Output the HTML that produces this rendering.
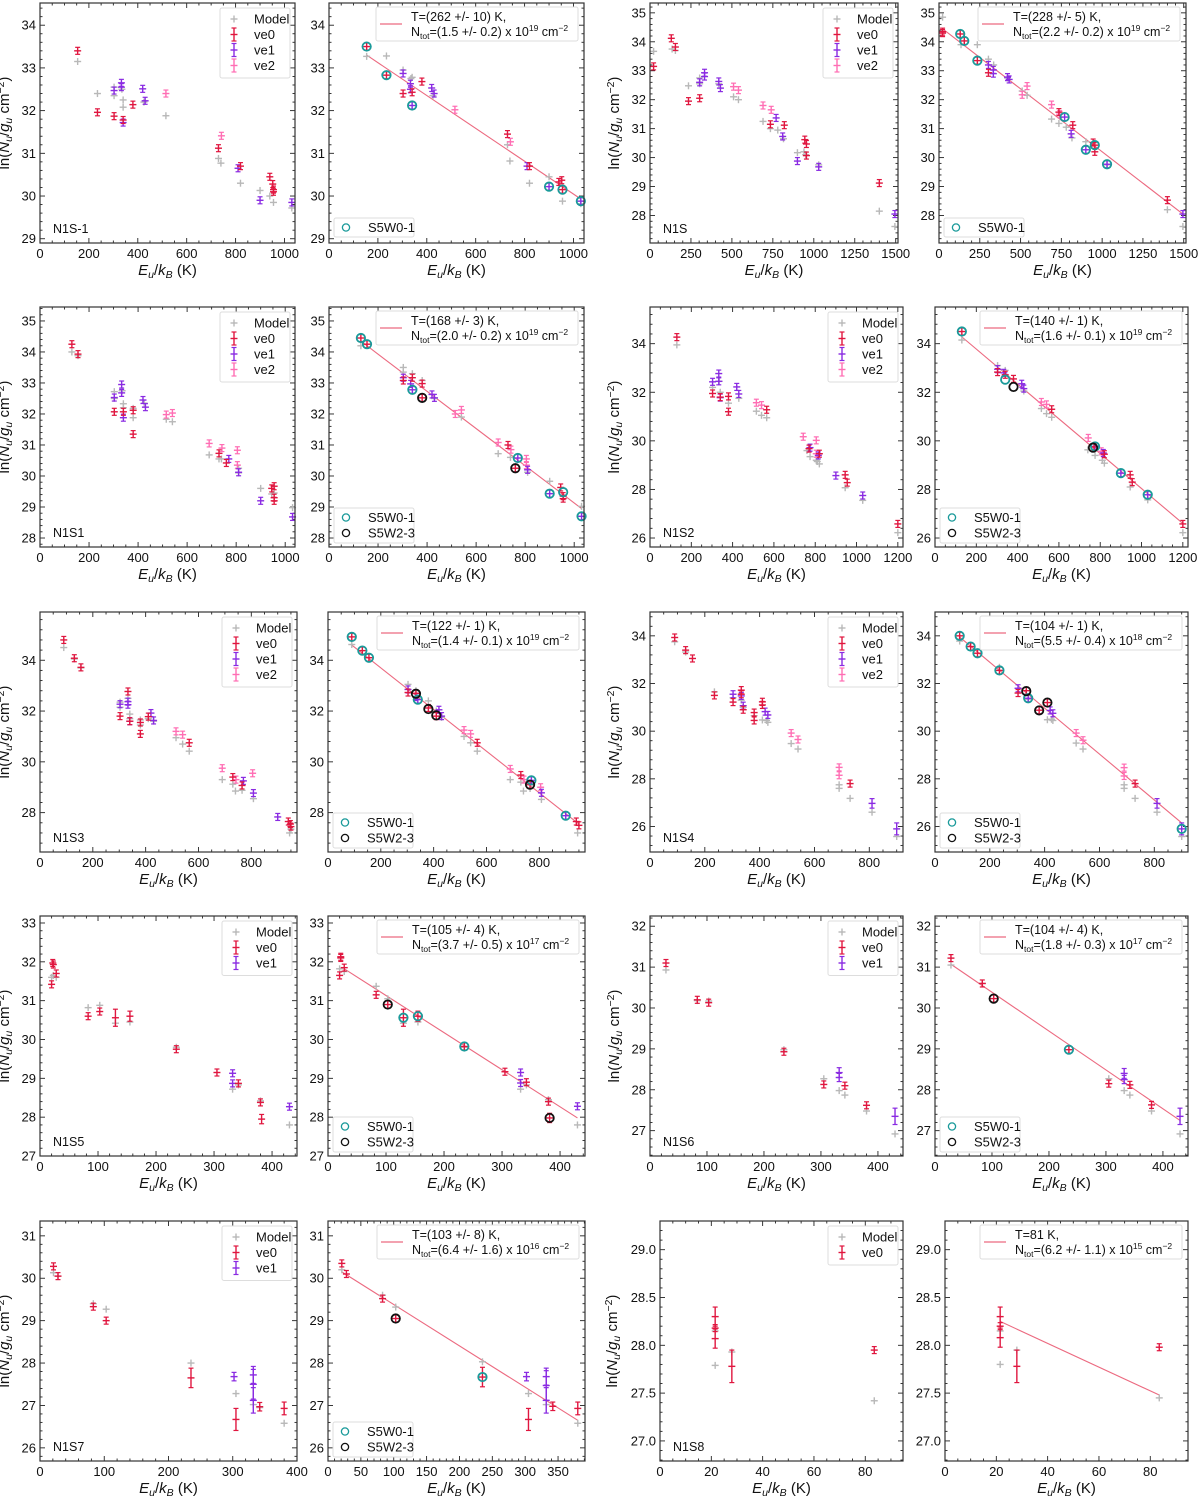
<!DOCTYPE html>
<html><head><meta charset="utf-8"><title>Rotation diagrams</title>
<style>
html,body{margin:0;padding:0;background:#fff;}
svg{display:block;font-family:"Liberation Sans","DejaVu Sans",sans-serif;}
</style></head>
<body>
<svg id="fig" width="1200" height="1496" viewBox="0 0 1200 1496" xmlns="http://www.w3.org/2000/svg"></svg>
<script>
// ---------- DATA (x = Eu/kB [K], y = ln(Nu/gu), optional 3rd = error) ----------
const r1a_model=[[154,33.15],[235,32.4],[303,32.35],[303,32.55],[335,32.5],[340,32.25],[340,32.08],[425,32.2],[515,31.88],[730,30.88],[740,30.77],[820,30.3],[900,30.13],[940,30.0],[955,29.85],[1030,29.72]];
const r1a_ve0=[[154,33.4],[235,31.96],[303,31.87],[340,31.78],[380,32.14],[730,31.12],[820,30.7],[940,30.45],[952,30.28],[955,30.15],[955,30.1]];
const r1a_ve1=[[303,32.47],[333,32.65],[333,32.55],[340,31.72],[420,32.51],[430,32.23],[810,30.65],[900,29.9],[1030,29.85]];
const r1a_ve2=[[515,32.4],[742,31.41]];
const r1b_model=[[154,33.27],[235,33.28],[303,32.95],[335,32.75],[340,32.78],[425,32.35],[730,31.2],[740,30.82],[820,30.3],[900,30.45],[955,29.88],[1030,29.82]];
const r1b_ve0=[[154,33.5],[235,32.83],[303,32.4],[340,32.43],[380,32.68],[730,31.45],[820,30.7],[940,30.33],[952,30.37],[955,30.15]];
const r1b_ve1=[[303,32.87],[333,32.63],[333,32.5],[340,32.12],[420,32.53],[430,32.4],[810,30.7],[900,30.22],[1030,29.88]];
const r1b_ve2=[[515,32.02],[742,31.27]];
const r1b_fit=[[154,33.3],[1030,29.93]];
const r1b_s50=[[154,33.5],[235,32.83],[340,32.12],[900,30.22],[955,30.15],[1030,29.88]];

const r1c_model=[[22,33.67],[135,33.75],[155,33.7],[235,32.48],[303,32.75],[303,32.55],[420,32.55],[510,32.1],[540,32.0],[690,31.25],[735,31.0],[780,30.95],[815,30.65],[900,30.17],[940,30.2],[950,30.1],[1030,29.75],[1400,28.15],[1495,27.62]];
const r1c_ve0=[[22,33.15],[130,34.12],[155,33.82],[235,31.95],[303,32.05],[735,31.15],[820,31.12],[945,30.62],[955,30.47],[955,30.07],[1400,29.12]];
const r1c_ve1=[[303,32.6],[333,32.93],[333,32.8],[420,32.63],[430,32.4],[770,31.37],[810,30.73],[900,29.88],[1030,29.68],[1495,28.05]];
const r1c_ve2=[[510,32.45],[540,32.33],[690,31.8],[740,31.65]];
const r1d_model=[[22,34.85],[135,33.9],[235,33.9],[303,33.4],[335,33.2],[420,32.75],[510,32.3],[540,32.15],[690,31.33],[735,31.18],[780,31.05],[815,30.68],[900,30.55],[1030,29.75],[1400,28.2],[1495,27.62]];
const r1d_ve0=[[22,34.35],[22,34.3],[130,34.27],[155,34.03],[235,33.35],[303,32.93],[735,31.57],[820,31.12],[945,30.52],[955,30.43],[955,30.2],[1400,28.53]];
const r1d_ve1=[[303,33.2],[333,33.03],[333,32.9],[420,32.78],[430,32.7],[770,31.4],[810,30.82],[900,30.27],[1030,29.77],[1495,28.05]];
const r1d_ve2=[[510,32.17],[540,32.47],[690,31.83],[740,31.5]];
const r1d_fit=[[22,34.45],[1500,28.03]];
const r1d_s50=[[130,34.27],[155,34.03],[235,33.35],[770,31.4],[900,30.27],[955,30.43],[1030,29.77]];

const r2a_model=[[130,34.0],[155,33.88],[303,32.72],[303,32.5],[335,32.75],[340,32.33],[340,32.2],[380,32.18],[380,31.88],[425,32.35],[515,31.83],[540,31.75],[690,30.68],[730,30.55],[740,30.55],[810,30.1],[810,30.25],[900,29.6],[945,29.42],[955,29.45],[1030,28.98]];
const r2a_ve0=[[130,34.25],[155,33.93],[303,32.07],[340,32.07],[380,32.12],[380,31.35],[730,30.73],[760,30.42],[945,29.6],[955,29.67],[955,29.3],[955,29.2]];
const r2a_ve1=[[303,32.53],[333,32.95],[333,32.68],[340,31.88],[420,32.45],[430,32.22],[770,30.55],[810,30.12],[900,29.2],[1030,28.68]];
const r2a_ve2=[[515,31.98],[540,32.03],[690,31.05],[742,30.9],[805,30.83],[805,30.35]];
const r2b_model=[[130,34.2],[303,33.5],[303,33.35],[340,33.3],[380,33.08],[430,32.5],[540,31.9],[690,30.72],[740,30.6],[810,30.12],[900,29.83],[1030,29.02]];
const r2b_ve0=[[130,34.45],[155,34.25],[303,33.08],[340,33.17],[380,32.98],[380,32.52],[730,31.0],[760,30.25],[945,29.63],[955,29.35],[955,29.27]];
const r2b_ve1=[[303,33.17],[333,32.97],[340,32.78],[420,32.63],[430,32.52],[770,30.58],[810,30.2],[900,29.43],[1030,28.7]];
const r2b_ve2=[[515,32.0],[540,32.13],[690,31.08],[742,30.85],[805,30.55],[805,30.35]];
const r2b_fit=[[130,34.35],[1030,28.95]];
const r2b_s50=[[130,34.45],[155,34.25],[340,32.78],[770,30.58],[900,29.43],[955,29.48],[1030,28.7]];
const r2b_s52=[[380,32.52],[760,30.25]];

const r2c_model=[[130,33.95],[303,32.2],[335,32.45],[340,32.0],[380,31.55],[430,31.75],[515,31.22],[540,31.05],[565,30.95],[760,29.6],[775,29.35],[805,29.2],[810,29.15],[820,29.05],[945,28.07],[1030,27.55],[1200,26.22]];
const r2c_ve0=[[130,34.27],[303,31.95],[340,31.8],[380,31.83],[380,31.2],[565,31.28],[770,29.68],[820,29.47],[945,28.6],[955,28.28],[1200,26.58]];
const r2c_ve1=[[303,32.43],[333,32.77],[333,32.45],[340,31.78],[420,32.22],[430,31.93],[775,29.72],[815,29.4],[900,28.57],[1030,27.75]];
const r2c_ve2=[[515,31.57],[540,31.47],[742,30.17],[805,30.02],[805,29.47]];
const r2d_model=[[130,34.15],[303,33.1],[340,32.9],[430,32.05],[515,31.33],[540,31.12],[565,30.97],[740,29.63],[775,29.4],[810,29.2],[820,29.08],[945,28.1],[1030,27.57],[1200,26.22]];
const r2d_ve0=[[130,34.5],[303,32.83],[340,32.72],[380,32.55],[565,31.3],[770,29.75],[820,29.45],[945,28.6],[955,28.3],[1200,26.58]];
const r2d_ve1=[[303,32.95],[333,32.8],[420,32.35],[430,32.15],[775,29.77],[815,29.5],[900,28.67],[1030,27.78]];
const r2d_ve2=[[515,31.6],[540,31.5],[742,30.12],[805,29.57]];
const r2d_fit=[[130,34.28],[1200,26.6]];
const r2d_s50=[[130,34.5],[340,32.52],[775,29.77],[900,28.67],[1030,27.78]];
const r2d_s52=[[380,32.22],[765,29.72]];

const r3a_model=[[90,34.5],[130,34.05],[155,33.7],[303,32.35],[303,32.15],[333,32.5],[340,31.88],[340,31.7],[380,31.65],[380,31.45],[410,31.7],[430,31.6],[515,30.95],[540,30.7],[565,30.42],[690,29.3],[730,29.12],[740,28.85],[765,28.88],[808,28.55],[945,27.2],[950,27.35]];
const r3a_ve0=[[90,34.8],[130,34.08],[155,33.72],[303,31.8],[333,32.77],[340,31.6],[380,31.55],[380,31.1],[410,31.78],[565,30.75],[730,29.4],[765,29.07],[940,27.65],[948,27.55],[950,27.45]];
const r3a_ve1=[[303,32.27],[333,32.37],[333,32.25],[340,31.6],[420,31.92],[430,31.63],[770,29.25],[808,28.77],[900,27.83]];
const r3a_ve2=[[515,31.2],[540,31.07],[690,29.75],[742,29.3],[805,29.55]];
const r3b_model=[[90,34.62],[303,33.05],[333,32.8],[380,32.4],[410,32.0],[430,31.75],[515,31.0],[540,30.75],[565,30.42],[690,29.3],[730,29.2],[740,28.85],[765,28.95],[808,28.52],[945,27.2]];
const r3b_ve0=[[90,34.92],[130,34.38],[155,34.1],[303,32.73],[333,32.7],[380,32.12],[410,31.8],[565,30.75],[730,29.48],[765,29.1],[940,27.65],[950,27.5]];
const r3b_ve1=[[303,32.85],[333,32.55],[340,32.45],[420,32.05],[430,31.8],[770,29.27],[808,28.78],[900,27.88]];
const r3b_ve2=[[515,31.25],[540,31.1],[690,29.72],[742,29.3],[805,29.0]];
const r3b_fit=[[90,34.6],[950,27.55]];
const r3b_s50=[[90,34.92],[130,34.38],[155,34.1],[340,32.45],[770,29.27],[900,27.88]];
const r3b_s52=[[333,32.68],[380,32.08],[410,31.83],[765,29.1]];

const r3c_model=[[90,33.75],[130,33.32],[235,31.65],[303,31.4],[333,31.3],[340,31.0],[380,30.65],[410,30.47],[425,30.45],[430,30.37],[515,29.48],[540,29.25],[690,27.75],[690,27.6],[730,27.18],[810,26.6],[900,25.58]];
const r3c_ve0=[[90,33.93],[130,33.4],[155,33.05],[235,31.5],[303,31.22],[333,31.72,0.15],[333,31.55],[340,30.9],[380,30.78],[380,30.45],[410,31.23,0.15],[410,31.1],[730,27.8]];
const r3c_ve1=[[303,31.55],[333,31.48],[340,31.07],[420,30.82],[430,30.68],[810,26.97,0.2],[900,25.9,0.25]];
const r3c_ve2=[[515,29.92],[540,29.65],[690,28.48,0.1],[690,28.15,0.1]];
const r3d_model=[[90,33.78],[235,32.68],[340,31.33],[410,30.48],[425,30.5],[430,30.45],[515,29.5],[540,29.25],[690,27.75],[690,27.6],[730,27.18],[810,26.6],[900,25.58]];
const r3d_ve0=[[90,34.0],[130,33.55],[155,33.27],[235,32.55],[303,31.6],[333,31.7,0.15],[380,30.88],[410,31.2,0.15],[730,27.8]];
const r3d_ve1=[[303,31.8],[340,31.38],[420,30.87],[430,30.75],[810,26.97,0.2],[900,25.9,0.25]];
const r3d_ve2=[[515,29.92],[540,29.62],[690,28.47,0.1],[690,28.12,0.1]];
const r3d_fit=[[90,33.95],[900,26.15]];
const r3d_s50=[[90,34.0],[130,33.55],[155,33.27],[235,32.55],[340,31.38],[900,25.9]];
const r3d_s52=[[333,31.68],[380,30.87],[410,31.2]];

const r4a_model=[[20,31.6],[23,31.65],[28,31.6],[83,30.82],[103,30.88],[130,30.42],[155,30.45],[235,29.8],[332,28.72],[342,28.83],[380,28.42],[430,27.8]];
const r4a_ve0=[[20,31.42],[22,31.97],[23,31.93],[28,31.7],[83,30.6],[103,30.72],[130,30.56,0.22],[155,30.6,0.13],[235,29.75],[305,29.15],[342,28.87],[380,28.38],[382,27.95,0.12]];
const r4a_ve1=[[332,29.13,0.07],[332,28.87,0.07],[430,28.27,0.08]];
const r4b_model=[[20,31.82],[28,31.75],[83,31.37],[103,31.05],[130,30.42],[155,30.45],[235,29.8],[332,28.72],[342,28.83],[380,28.45],[430,27.8]];
const r4b_ve0=[[20,31.65],[22,32.13],[22,32.1],[28,31.85],[83,31.15],[103,30.9],[130,30.56,0.22],[155,30.6,0.13],[235,29.82],[305,29.17],[342,28.9],[380,28.4],[382,27.98,0.12]];
const r4b_ve1=[[332,29.15,0.07],[332,28.88,0.07],[430,28.28,0.08]];
const r4b_fit=[[28,31.82],[430,27.98]];
const r4b_s50=[[130,30.56],[155,30.6],[235,29.82]];
const r4b_s52=[[103,30.9],[382,27.98]];

const r4c_model=[[28,30.93],[83,30.18],[103,30.17],[235,28.98],[305,28.27],[332,27.98],[342,27.87],[380,27.48],[430,26.92]];
const r4c_ve0=[[28,31.1],[83,30.2],[103,30.13],[235,28.93,0.06],[305,28.13,0.08],[342,28.1],[380,27.62,0.08]];
const r4c_ve1=[[332,28.42,0.12],[332,28.3,0.1],[430,27.35,0.2]];
const r4d_model=[[28,31.05],[83,30.6],[305,28.27],[332,27.98],[342,27.87],[380,27.48],[430,26.92]];
const r4d_ve0=[[28,31.22],[83,30.6],[103,30.23],[235,28.98],[305,28.15,0.08],[342,28.12],[380,27.63,0.08]];
const r4d_ve1=[[332,28.4,0.12],[332,28.25,0.1],[430,27.35,0.2]];
const r4d_fit=[[28,31.07],[430,27.25]];
const r4d_s50=[[235,28.98]];
const r4d_s52=[[103,30.23]];

const r5a_model=[[21,30.13],[28,30.05],[83,29.4],[103,29.27],[235,28.0],[305,27.28],[332,27.02],[342,26.95],[380,26.58]];
const r5a_ve0=[[21,30.28],[28,30.05],[83,29.33],[103,29.0,0.08],[235,27.65,0.23],[305,26.67,0.26],[342,26.97,0.1],[380,26.93,0.15]];
const r5a_ve1=[[302,27.68,0.1],[332,27.72,0.2],[332,27.5,0.35],[332,27.12,0.3]];
const r5b_model=[[21,30.2],[83,29.6],[103,29.32],[235,28.03],[305,27.28],[332,27.02],[380,26.58]];
const r5b_ve0=[[21,30.35],[28,30.1],[83,29.52],[103,29.05,0.08],[235,27.67,0.23],[305,26.67,0.26],[342,26.98,0.1],[380,26.93,0.15]];
const r5b_ve1=[[302,27.68,0.1],[332,27.68,0.2],[332,27.47,0.35],[332,27.12,0.3]];
const r5b_fit=[[21,30.15],[380,26.65]];
const r5b_s50=[[235,27.67]];
const r5b_s52=[[103,29.05]];

const r5c_model=[[21.5,28.15],[21.5,27.79],[28,27.93],[83.5,27.42]];
const r5c_ve0=[[21.5,28.3,0.1],[21.5,28.18,0.02],[21.5,28.07,0.1],[28,27.78,0.17],[83.5,27.95,0.03]];
const r5d_model=[[21.5,28.15],[21.5,27.8],[28,27.95],[83.5,27.45]];
const r5d_ve0=[[21.5,28.3,0.1],[21.5,28.2,0.02],[21.5,28.08,0.1],[28,27.78,0.17],[83.5,27.98,0.03]];
const r5d_fit=[[21.5,28.25],[83.5,27.48]];

// tick label arrays
const xt1000=[0,200,400,600,800,1000], xt1500=[0,250,500,750,1000,1250,1500], xt1200=[0,200,400,600,800,1000,1200];
const xt800=[0,200,400,600,800], xt400=[0,100,200,300,400], xt350=[0,50,100,150,200,250,300,350], xt80=[0,20,40,60,80];
const yt29_34=[29,30,31,32,33,34], yt28_35=[28,29,30,31,32,33,34,35], yt26_34=[26,28,30,32,34], yt28_34=[28,30,32,34];
const yt27_33=[27,28,29,30,31,32,33], yt27_32=[27,28,29,30,31,32], yt26_31=[26,27,28,29,30,31], yt27_29=[27.0,27.5,28.0,28.5,29.0];

// fit legend texts
const fitT=["T=(262 +/- 10) K,","T=(228 +/- 5) K,","T=(168 +/- 3) K,","T=(140 +/- 1) K,","T=(122 +/- 1) K,","T=(104 +/- 1) K,","T=(105 +/- 4) K,","T=(104 +/- 4) K,","T=(103 +/- 8) K,","T=81 K,"];
const fitN=[["1.5 +/- 0.2","19"],["2.2 +/- 0.2","19"],["2.0 +/- 0.2","19"],["1.6 +/- 0.1","19"],["1.4 +/- 0.1","19"],["5.5 +/- 0.4","18"],["3.7 +/- 0.5","17"],["1.8 +/- 0.3","17"],["6.4 +/- 1.6","16"],["6.2 +/- 1.1","15"]];

// ---------- DRAWING ----------
const NS="http://www.w3.org/2000/svg";
const svg=document.getElementById('fig');
const C={model:'#b8b8b8',ve0:'#e0163f',ve1:'#8a2be2',ve2:'#ff6eb4',fit:'#ec6a80',s50:'#1a9a9a',s52:'#111'};
function mk(tag,attrs,parent){const e=document.createElementNS(NS,tag);for(const k in attrs)e.setAttribute(k,attrs[k]);(parent||svg).appendChild(e);return e;}

function plus(g,px,py,col,errPx){
  const grp=mk('g',{},g);
  
  
  mk('line',{x1:px-3.5,y1:py,x2:px+3.5,y2:py,stroke:col,'stroke-width':1.4},grp);
  const e=Math.max(errPx,3.5);
  mk('line',{x1:px,y1:py-e,x2:px,y2:py+e,stroke:col,'stroke-width':1.4},grp);
  if(errPx!==null){
    mk('line',{x1:px-2.5,y1:py-e,x2:px+2.5,y2:py-e,stroke:col,'stroke-width':1.2},grp);
    mk('line',{x1:px-2.5,y1:py+e,x2:px+2.5,y2:py+e,stroke:col,'stroke-width':1.2},grp);
  }
}

function panel(p){
  const g=mk('g',{});
  
  
  const X=v=>p.x+(v-p.xl[0])/(p.xl[1]-p.xl[0])*p.w;
  const Y=v=>p.y+p.h-(v-p.yl[0])/(p.yl[1]-p.yl[0])*p.h;
  const tk=mk('g',{stroke:'#222','stroke-width':0.9},g);
  
  
  const xs=p.xt[1]-p.xt[0], ys=p.yt[1]-p.yt[0];
  const xm=xs/(p.xmn||4), ym=ys/(p.ymn||5);
  for(let v=Math.ceil(p.xl[0]/xm)*xm; v<=p.xl[1]+1e-9; v+=xm){const px=X(v);
    const maj=Math.abs(v/xs-Math.round(v/xs))<1e-6; const L=maj?5:2.5;
    mk('line',{x1:px,y1:p.y+p.h,x2:px,y2:p.y+p.h-L},tk);mk('line',{x1:px,y1:p.y,x2:px,y2:p.y+L},tk);}
  for(let v=Math.ceil(p.yl[0]/ym-1e-9)*ym; v<=p.yl[1]+1e-9; v+=ym){const py=Y(v);
    const maj=Math.abs(v/ys-Math.round(v/ys))<1e-6; const L=maj?5:2.5;
    mk('line',{x1:p.x,y1:py,x2:p.x+L,y2:py},tk);mk('line',{x1:p.x+p.w,y1:py,x2:p.x+p.w-L,y2:py},tk);}
  p.xt.forEach(v=>{const t=mk('text',{x:X(v),y:p.y+p.h+15,'text-anchor':'middle','font-size':13,fill:'#111'},g);t.textContent=v;
    });
  p.yt.forEach(v=>{const t=mk('text',{x:p.x-4,y:Y(v)+4.5,'text-anchor':'end','font-size':13,fill:'#111'},g);t.textContent=p.yfix?v.toFixed(1):v;
    });
  const xt=mk('text',{x:p.x+p.w/2,y:p.y+p.h+32,'text-anchor':'middle','font-size':15,fill:'#111'},g);
  
  xt.innerHTML='<tspan font-style="italic">E</tspan><tspan font-style="italic" font-size="10.5" dy="3">u</tspan><tspan dy="-3">/</tspan><tspan font-style="italic">k</tspan><tspan font-style="italic" font-size="10.5" dy="3">B</tspan><tspan dy="-3"> (K)</tspan>';
  if(p.ylab){
    const cx=p.x-(p.ylo||31), cy=p.y+p.h/2;
    const yt=mk('text',{x:cx,y:cy,'text-anchor':'middle','font-size':15,fill:'#111',transform:`rotate(-90 ${cx} ${cy})`},g);
    
    yt.innerHTML='ln(<tspan font-style="italic">N</tspan><tspan font-style="italic" font-size="10.5" dy="3">u</tspan><tspan dy="-3">/</tspan><tspan font-style="italic">g</tspan><tspan font-style="italic" font-size="10.5" dy="3">u</tspan><tspan dy="-3"> cm</tspan><tspan font-size="10.5" dy="-5">−2</tspan><tspan dy="5">)</tspan>';
  }
  if(p.fit){const l=mk('line',{x1:X(p.fit[0][0]),y1:Y(p.fit[0][1]),x2:X(p.fit[1][0]),y2:Y(p.fit[1][1]),stroke:C.fit,'stroke-width':1.1},g);
    }
  const ppu=p.h/(p.yl[1]-p.yl[0]);
  [['model',p.model],['ve2',p.ve2],['ve1',p.ve1],['ve0',p.ve0]].forEach(([k,arr])=>{
    if(!arr)return;
    const sg=mk('g',{},g);
    
    
    arr.forEach(d=>plus(sg,X(d[0]),Y(d[1]),C[k],k==='model'?null:(d[2]!==undefined?d[2]*ppu:0)));
  });
  [['s50',p.s50],['s52',p.s52]].forEach(([k,arr])=>{
    if(!arr)return;
    const sg=mk('g',{},g);
    
    
    arr.forEach(d=>{const c=mk('circle',{cx:X(d[0]),cy:Y(d[1]),r:4.2,fill:'none',stroke:C[k],'stroke-width':1.8},sg);
      });
  });
  const fr=mk('rect',{x:p.x,y:p.y,width:p.w,height:p.h,fill:'none',stroke:'#333','stroke-width':1.2},g);
  
  if(p.label){const t=mk('text',{x:p.x+13,y:p.y+p.h-10,'font-size':12.5,fill:'#111'},g);t.textContent=p.label;
    }
  if(p.leg){
    const n=p.leg.length, bw=70, bx=p.x+p.w-bw-5, by=p.y+5;
    const lg=mk('g',{},g);
    
    
    mk('rect',{x:bx,y:by,width:bw,height:8+15.5*n,fill:'#fff',stroke:'#ddd','stroke-width':1,rx:2},lg);
    p.leg.forEach((k,i)=>{const cy=by+11+15.5*i, mx=bx+14;
      const eg=mk('g',{},lg);
      
      
      plus(eg,mx,cy,C[k],k==='model'?null:6.5);
      const t=mk('text',{x:bx+34,y:cy+4.5,'font-size':13,fill:'#111'},eg);t.textContent=k==='model'?'Model':k;});
  }
  if(p.fi!==undefined){
    const bw=202, bx=p.x+p.w-bw-6, by=p.y+4;
    const lg=mk('g',{},g);
    
    
    mk('rect',{x:bx,y:by,width:bw,height:34,fill:'#fff',stroke:'#ddd','stroke-width':1,rx:2},lg);
    mk('line',{x1:bx+4,y1:by+17,x2:bx+26,y2:by+17,stroke:C.fit,'stroke-width':1.3},lg);
    const t1=mk('text',{x:bx+35,y:by+14,'font-size':12.5,fill:'#111'},lg);t1.textContent=fitT[p.fi];
    const t2=mk('text',{x:bx+35,y:by+29,'font-size':12.5,fill:'#111'},lg);
    t2.innerHTML='N<tspan font-size="8.5" dy="3">tot</tspan><tspan dy="-3">=('+fitN[p.fi][0]+') x 10</tspan><tspan font-size="8.5" dy="-5">'+fitN[p.fi][1]+'</tspan><tspan dy="5"> cm</tspan><tspan font-size="8.5" dy="-5">−2</tspan>';
  }
  if(p.leg2){
    const n=p.leg2.length, bx=p.x+5, bh=n===1?19:35, by=p.y+p.h-bh-(n===1?6:4);
    const lg=mk('g',{},g);
    
    
    mk('rect',{x:bx,y:by,width:80,height:bh,fill:'#fff',stroke:'#ddd','stroke-width':1,rx:2},lg);
    p.leg2.forEach((k,i)=>{const cy=by+9.5+15.5*i;
      mk('circle',{cx:bx+12,cy:cy,r:3.6,fill:'none',stroke:C[k],'stroke-width':1.3},lg);
      const t=mk('text',{x:bx+34,y:cy+4.5,'font-size':13,fill:'#111'},lg);t.textContent=k==='s50'?'S5W0-1':'S5W2-3';});
  }
}

const L4=['model','ve0','ve1','ve2'], L3=['model','ve0','ve1'], L2=['model','ve0'];
const H=240;
panel({name:'panel-n1s-1',x:40,y:3,w:255,h:H,xl:[0,1043],yl:[28.9,34.52],xt:xt1000,yt:yt29_34,ylab:1,model:r1a_model,ve0:r1a_ve0,ve1:r1a_ve1,ve2:r1a_ve2,label:'N1S-1',leg:L4});
panel({name:'panel-n1s-1-fit',x:329,y:3,w:255,h:H,xl:[0,1043],yl:[28.9,34.52],xt:xt1000,yt:yt29_34,model:r1b_model,ve0:r1b_ve0,ve1:r1b_ve1,ve2:r1b_ve2,fit:r1b_fit,s50:r1b_s50,fi:0,leg2:['s50']});
panel({name:'panel-n1s',x:650,y:3,w:248,h:H,xl:[0,1514],yl:[27.05,35.34],xt:xt1500,yt:yt28_35,xmn:5,ylab:1,model:r1c_model,ve0:r1c_ve0,ve1:r1c_ve1,ve2:r1c_ve2,label:'N1S',leg:L4});
panel({name:'panel-n1s-fit',x:939,y:3,w:247,h:H,xl:[0,1514],yl:[27.05,35.34],xt:xt1500,yt:yt28_35,xmn:5,model:r1d_model,ve0:r1d_ve0,ve1:r1d_ve1,ve2:r1d_ve2,fit:r1d_fit,s50:r1d_s50,fi:1,leg2:['s50']});
panel({name:'panel-n1s1',x:40,y:307,w:255,h:H,xl:[0,1040],yl:[27.71,35.45],xt:xt1000,yt:yt28_35,ylab:1,model:r2a_model,ve0:r2a_ve0,ve1:r2a_ve1,ve2:r2a_ve2,label:'N1S1',leg:L4});
panel({name:'panel-n1s1-fit',x:329,y:307,w:255,h:H,xl:[0,1040],yl:[27.71,35.45],xt:xt1000,yt:yt28_35,model:r2b_model,ve0:r2b_ve0,ve1:r2b_ve1,ve2:r2b_ve2,fit:r2b_fit,s50:r2b_s50,s52:r2b_s52,fi:2,leg2:['s50','s52']});
panel({name:'panel-n1s2',x:650,y:307,w:253,h:H,xl:[0,1225],yl:[25.63,35.51],xt:xt1200,yt:yt26_34,ylab:1,model:r2c_model,ve0:r2c_ve0,ve1:r2c_ve1,ve2:r2c_ve2,label:'N1S2',leg:L4});
panel({name:'panel-n1s2-fit',x:935,y:307,w:253,h:H,xl:[0,1225],yl:[25.63,35.51],xt:xt1200,yt:yt26_34,model:r2d_model,ve0:r2d_ve0,ve1:r2d_ve1,ve2:r2d_ve2,fit:r2d_fit,s50:r2d_s50,s52:r2d_s52,fi:3,leg2:['s50','s52']});
panel({name:'panel-n1s3',x:40,y:612,w:257,h:H,xl:[0,973],yl:[26.45,35.9],xt:xt800,yt:yt28_34,ylab:1,model:r3a_model,ve0:r3a_ve0,ve1:r3a_ve1,ve2:r3a_ve2,label:'N1S3',leg:L4});
panel({name:'panel-n1s3-fit',x:328,y:612,w:257,h:H,xl:[0,973],yl:[26.45,35.9],xt:xt800,yt:yt28_34,model:r3b_model,ve0:r3b_ve0,ve1:r3b_ve1,ve2:r3b_ve2,fit:r3b_fit,s50:r3b_s50,s52:r3b_s52,fi:4,leg2:['s50','s52']});
panel({name:'panel-n1s4',x:650,y:612,w:253,h:H,xl:[0,923],yl:[24.93,35.0],xt:xt800,yt:yt26_34,ylab:1,model:r3c_model,ve0:r3c_ve0,ve1:r3c_ve1,ve2:r3c_ve2,label:'N1S4',leg:L4});
panel({name:'panel-n1s4-fit',x:935,y:612,w:253,h:H,xl:[0,923],yl:[24.93,35.0],xt:xt800,yt:yt26_34,model:r3d_model,ve0:r3d_ve0,ve1:r3d_ve1,ve2:r3d_ve2,fit:r3d_fit,s50:r3d_s50,s52:r3d_s52,fi:5,leg2:['s50','s52']});
panel({name:'panel-n1s5',x:40,y:916,w:257,h:H,xl:[0,443],yl:[27.0,33.18],xt:xt400,yt:yt27_33,xmn:5,ylab:1,model:r4a_model,ve0:r4a_ve0,ve1:r4a_ve1,label:'N1S5',leg:L3});
panel({name:'panel-n1s5-fit',x:328,y:916,w:257,h:H,xl:[0,443],yl:[27.0,33.18],xt:xt400,yt:yt27_33,xmn:5,model:r4b_model,ve0:r4b_ve0,ve1:r4b_ve1,fit:r4b_fit,s50:r4b_s50,s52:r4b_s52,fi:6,leg2:['s50','s52']});
panel({name:'panel-n1s6',x:650,y:916,w:253,h:H,xl:[0,444],yl:[26.38,32.25],xt:xt400,yt:yt27_32,xmn:5,ylab:1,model:r4c_model,ve0:r4c_ve0,ve1:r4c_ve1,label:'N1S6',leg:L3});
panel({name:'panel-n1s6-fit',x:935,y:916,w:253,h:H,xl:[0,444],yl:[26.38,32.25],xt:xt400,yt:yt27_32,xmn:5,model:r4d_model,ve0:r4d_ve0,ve1:r4d_ve1,fit:r4d_fit,s50:r4d_s50,s52:r4d_s52,fi:7,leg2:['s50','s52']});
panel({name:'panel-n1s7',x:40,y:1221,w:257,h:H,xl:[0,400],yl:[25.69,31.35],xt:xt400,yt:yt26_31,xmn:5,ylab:1,model:r5a_model,ve0:r5a_ve0,ve1:r5a_ve1,label:'N1S7',leg:L3});
panel({name:'panel-n1s7-fit',x:328,y:1221,w:257,h:H,xl:[0,391],yl:[25.69,31.35],xt:xt350,yt:yt26_31,xmn:5,model:r5b_model,ve0:r5b_ve0,ve1:r5b_ve1,fit:r5b_fit,s50:r5b_s50,s52:r5b_s52,fi:8,leg2:['s50','s52']});
panel({name:'panel-n1s8',x:660,y:1221,w:243,h:H,xl:[0,94.7],yl:[26.79,29.3],xt:xt80,yt:yt27_29,ylab:1,ylo:43,yfix:1,model:r5c_model,ve0:r5c_ve0,label:'N1S8',leg:L2});
panel({name:'panel-n1s8-fit',x:945,y:1221,w:243,h:H,xl:[0,94.7],yl:[26.79,29.3],xt:xt80,yt:yt27_29,yfix:1,model:r5d_model,ve0:r5d_ve0,fit:r5d_fit,fi:9});
</script>
</body></html>
